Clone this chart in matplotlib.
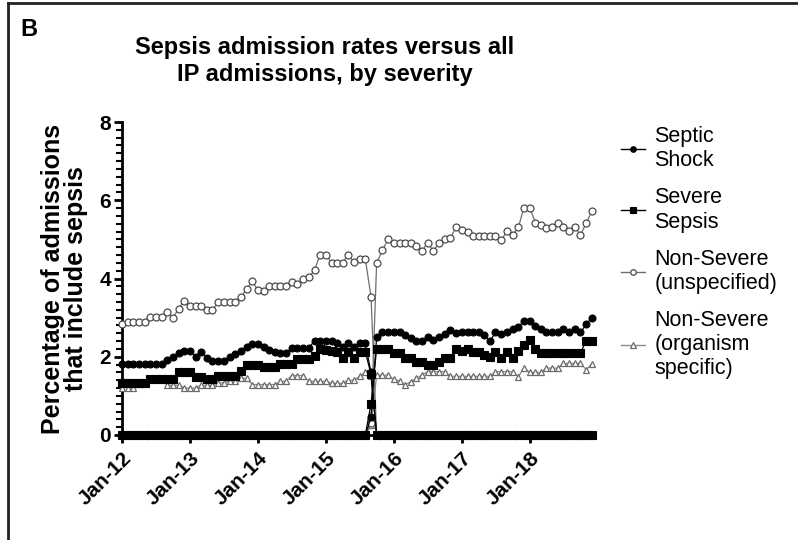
import matplotlib
matplotlib.use('Agg')
import matplotlib.pyplot as plt
import matplotlib.dates as mdates
from matplotlib.ticker import MultipleLocator
from matplotlib.lines import Line2D
import pandas as pd

plt.rcParams['font.family'] = ['Liberation Sans', 'DejaVu Sans']

# monthly points, Jan 2012 - Dec 2018
months = pd.date_range('2012-01-01', periods=84, freq='MS')

# ICD-9 coded values, Jan 2012 - Sep 2015 (zero afterwards)
shock_icd9 = [1.81] * 8 + [1.92, 2.0, 2.09, 2.15, 2.15, 2.0, 2.13, 1.96, 1.9, 1.9, 1.9, 2.0,
              2.06, 2.15, 2.25, 2.33, 2.33, 2.25, 2.16, 2.13, 2.1, 2.1, 2.22, 2.22, 2.22,
              2.22, 2.41, 2.41, 2.41, 2.41, 2.34, 2.24, 2.34, 2.24, 2.34, 2.34, 1.6]
severe_icd9 = [1.32] * 5 + [1.43] * 5 + [1.62] * 3 + [1.49] * 2 + [1.44] * 2 + [1.51] * 4 + \
              [1.63] + [1.8] * 3 + [1.74] * 3 + [1.82] * 3 + [1.93] * 3 + \
              [2.02, 2.21, 2.17, 2.15, 2.13, 1.96, 2.13, 1.96, 2.13, 2.13, 1.55]
unspec_icd9 = [2.83] + [2.9] * 4 + [3.02] * 3 + [3.14, 3.0, 3.23, 3.43] + [3.3] * 3 + \
              [3.19] * 2 + [3.4] * 4 + [3.52, 3.73, 3.93, 3.7, 3.69] + [3.8] * 4 + \
              [3.92, 3.87, 4.0, 4.03, 4.21, 4.61, 4.61] + [4.4] * 3 + \
              [4.61, 4.41, 4.51, 4.51, 3.52]
organism_icd9 = [1.21] * 3 + [1.3] * 2 + [1.45] * 3 + [1.27] * 3 + [1.2] * 3 + [1.27] * 3 + \
                [1.33] * 2 + [1.38] * 2 + [1.45] * 2 + [1.29] * 5 + [1.37] * 2 + \
                [1.52] * 3 + [1.37] * 4 + [1.32] * 3 + [1.4] * 2 + [1.5, 1.6, 1.5]

# ICD-10 coded values, Sep 2015 - Dec 2018 (zero before)
shock_icd10 = [0.45, 2.5, 2.63, 2.63, 2.63, 2.63, 2.55, 2.49, 2.41, 2.41, 2.51, 2.43, 2.51,
               2.58, 2.68, 2.6, 2.62, 2.62, 2.62, 2.62, 2.55, 2.4, 2.62, 2.58, 2.64, 2.7,
               2.76, 2.92, 2.92, 2.79, 2.7, 2.63, 2.63, 2.63, 2.71, 2.62, 2.72, 2.62, 2.83, 3.0]
severe_icd10 = [0.8] + [2.21] * 3 + [2.09] * 2 + [1.96] * 2 + [1.87] * 2 + [1.79] * 2 + \
               [1.87] + [1.96] * 2 + [2.2, 2.15, 2.2, 2.12, 2.12, 2.05, 2.0, 2.12, 1.98,
                                      2.13, 1.98, 2.15, 2.3, 2.42, 2.2] + [2.1] * 8 + [2.41] * 2
unspec_icd10 = [0.3, 4.4, 4.72, 5.0] + [4.9] * 4 + [4.83, 4.71, 4.91, 4.71, 4.9, 5.0, 5.03,
                                                  5.32, 5.24, 5.19] + [5.08] * 5 + \
               [4.98, 5.21, 5.11, 5.31, 5.81, 5.81, 5.42, 5.36, 5.3, 5.32, 5.43, 5.32, 5.21,
                5.32, 5.11, 5.42, 5.72]
organism_icd10 = [0.25] + [1.53] * 3 + [1.42, 1.38, 1.28, 1.36, 1.45, 1.53] + [1.62] * 4 + \
                 [1.5] * 8 + [1.62] * 4 + [1.49, 1.72] + [1.6] * 3 + [1.71] * 3 + \
                 [1.83] * 4 + [1.67, 1.82]

labels = ['Septic\nShock', 'Severe\nSepsis', 'Non-Severe\n(unspecified)',
          'Non-Severe\n(organism\nspecific)']

styles = {
    'organism': dict(marker='^', color='#8a8a8a', mfc='white', mec='#6a6a6a', ms=5, mew=0.9),
    'unspec': dict(marker='o', color='#6e6e6e', mfc='white', mec='#4a4a4a', ms=5, mew=0.9),
    'severe': dict(marker='s', color='black', mfc='black', mec='black', ms=5.5, mew=0.8),
    'shock': dict(marker='o', color='black', mfc='black', mec='black', ms=5, mew=0.8),
}

fig = plt.figure(figsize=(7.98, 5.40), dpi=100)
ax = fig.add_axes([122 / 798, 105 / 540, 473 / 798, 313 / 540])

series = [
    ('organism', organism_icd9, organism_icd10),
    ('unspec', unspec_icd9, unspec_icd10),
    ('severe', severe_icd9, severe_icd10),
    ('shock', shock_icd9, shock_icd10),
]
for key, v9, v10 in series:
    st = styles[key]
    y9 = v9 + [0.0] * (84 - len(v9))
    y10 = [0.0] * (84 - len(v10)) + v10
    ax.plot(months, y9, lw=0.9, clip_on=False, zorder=3, **st)
    ax.plot(months, y10, lw=0.9, clip_on=False, zorder=3, **st)

ax.set_ylim(0, 8)
ax.set_xlim(pd.Timestamp('2012-01-01'), pd.Timestamp('2018-12-18'))
ax.yaxis.set_major_locator(MultipleLocator(2))
ax.yaxis.set_minor_locator(MultipleLocator(0.2))
ax.xaxis.set_major_locator(mdates.YearLocator())
ax.xaxis.set_major_formatter(mdates.DateFormatter('%b-%y'))

for s in ['top', 'right']:
    ax.spines[s].set_visible(False)
for s in ['left', 'bottom']:
    ax.spines[s].set_linewidth(2)

ax.tick_params(axis='both', which='major', length=6, width=2, direction='out')
ax.tick_params(axis='y', which='minor', length=4, width=1.5)
ax.tick_params(axis='y', labelsize=15, pad=2)
ax.tick_params(axis='x', labelsize=15, pad=4)
for lab in ax.get_yticklabels():
    lab.set_fontweight('bold')
for lab in ax.get_xticklabels():
    lab.set_fontweight('bold')
    lab.set_rotation(45)
    lab.set_ha('right')
    lab.set_rotation_mode('anchor')

ax.set_ylabel('Percentage of admissions\nthat include sepsis', fontsize=18,
              fontweight='bold', linespacing=0.95, labelpad=8)

fig.text(325 / 798, 1 - 61 / 540, 'Sepsis admission rates versus all\nIP admissions, by severity',
         ha='center', va='center', fontsize=17, fontweight='bold', linespacing=1.2)
fig.text(20 / 798, 1 - 30 / 540, 'B', ha='left', va='center', fontsize=17, fontweight='bold')

# legend
handles = []
for key in ['shock', 'severe', 'unspec', 'organism']:
    st = dict(styles[key])
    st['ms'] = 4
    handles.append(Line2D([], [], lw=1, **st))
fig.legend(handles, labels, loc='upper left', bbox_to_anchor=(621 / 798, 1 - 126 / 540),
           frameon=False, fontsize=15.5, handlelength=1.1, handletextpad=0.45,
           labelspacing=0.75, borderpad=0, borderaxespad=0)

# panel border (left and top)
fig.add_artist(Line2D([8 / 798, 8 / 798], [0, 1 - 3 / 540], color='#222222', lw=2,
                      transform=fig.transFigure))
fig.add_artist(Line2D([8 / 798, 1], [1 - 3 / 540, 1 - 3 / 540], color='#222222', lw=2,
                      transform=fig.transFigure))

fig.savefig('out.png', dpi=100)
